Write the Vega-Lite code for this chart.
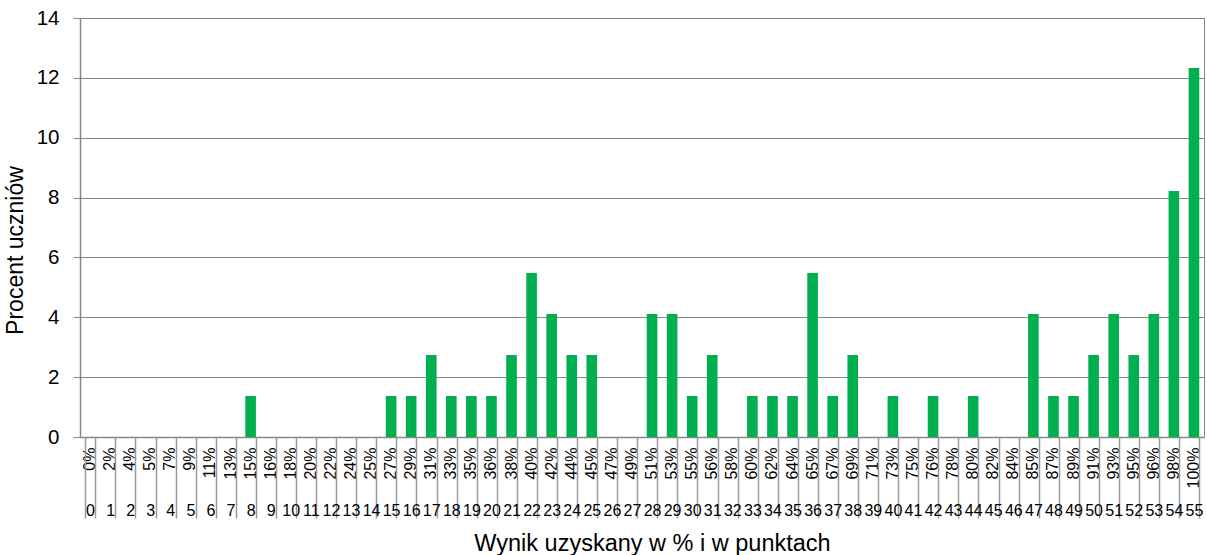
{
  "$schema": "https://vega.github.io/schema/vega-lite/v6.json",
  "width": 1124,
  "height": 419,
  "autosize": "none",
  "padding": {"left": 80, "top": 18, "right": 3, "bottom": 118},
  "background": "white",
  "config": {
    "font": "Liberation Sans",
    "view": {"stroke": "#878787", "strokeWidth": 1}
  },
  "data": {
    "values": [
      {"pts": 0, "lab": "0|0%", "value": 0},
      {"pts": 1, "lab": "1|2%", "value": 0},
      {"pts": 2, "lab": "2|4%", "value": 0},
      {"pts": 3, "lab": "3|5%", "value": 0},
      {"pts": 4, "lab": "4|7%", "value": 0},
      {"pts": 5, "lab": "5|9%", "value": 0},
      {"pts": 6, "lab": "6|11%", "value": 0},
      {"pts": 7, "lab": "7|13%", "value": 0},
      {"pts": 8, "lab": "8|15%", "value": 1.37},
      {"pts": 9, "lab": "9|16%", "value": 0},
      {"pts": 10, "lab": "10|18%", "value": 0},
      {"pts": 11, "lab": "11|20%", "value": 0},
      {"pts": 12, "lab": "12|22%", "value": 0},
      {"pts": 13, "lab": "13|24%", "value": 0},
      {"pts": 14, "lab": "14|25%", "value": 0},
      {"pts": 15, "lab": "15|27%", "value": 1.37},
      {"pts": 16, "lab": "16|29%", "value": 1.37},
      {"pts": 17, "lab": "17|31%", "value": 2.74},
      {"pts": 18, "lab": "18|33%", "value": 1.37},
      {"pts": 19, "lab": "19|35%", "value": 1.37},
      {"pts": 20, "lab": "20|36%", "value": 1.37},
      {"pts": 21, "lab": "21|38%", "value": 2.74},
      {"pts": 22, "lab": "22|40%", "value": 5.48},
      {"pts": 23, "lab": "23|42%", "value": 4.11},
      {"pts": 24, "lab": "24|44%", "value": 2.74},
      {"pts": 25, "lab": "25|45%", "value": 2.74},
      {"pts": 26, "lab": "26|47%", "value": 0},
      {"pts": 27, "lab": "27|49%", "value": 0},
      {"pts": 28, "lab": "28|51%", "value": 4.11},
      {"pts": 29, "lab": "29|53%", "value": 4.11},
      {"pts": 30, "lab": "30|55%", "value": 1.37},
      {"pts": 31, "lab": "31|56%", "value": 2.74},
      {"pts": 32, "lab": "32|58%", "value": 0},
      {"pts": 33, "lab": "33|60%", "value": 1.37},
      {"pts": 34, "lab": "34|62%", "value": 1.37},
      {"pts": 35, "lab": "35|64%", "value": 1.37},
      {"pts": 36, "lab": "36|65%", "value": 5.48},
      {"pts": 37, "lab": "37|67%", "value": 1.37},
      {"pts": 38, "lab": "38|69%", "value": 2.74},
      {"pts": 39, "lab": "39|71%", "value": 0},
      {"pts": 40, "lab": "40|73%", "value": 1.37},
      {"pts": 41, "lab": "41|75%", "value": 0},
      {"pts": 42, "lab": "42|76%", "value": 1.37},
      {"pts": 43, "lab": "43|78%", "value": 0},
      {"pts": 44, "lab": "44|80%", "value": 1.37},
      {"pts": 45, "lab": "45|82%", "value": 0},
      {"pts": 46, "lab": "46|84%", "value": 0},
      {"pts": 47, "lab": "47|85%", "value": 4.11},
      {"pts": 48, "lab": "48|87%", "value": 1.37},
      {"pts": 49, "lab": "49|89%", "value": 1.37},
      {"pts": 50, "lab": "50|91%", "value": 2.74},
      {"pts": 51, "lab": "51|93%", "value": 4.11},
      {"pts": 52, "lab": "52|95%", "value": 2.74},
      {"pts": 53, "lab": "53|96%", "value": 4.11},
      {"pts": 54, "lab": "54|98%", "value": 8.22},
      {"pts": 55, "lab": "55|100%", "value": 12.33}
    ]
  },
  "layer": [
    {
      "mark": {"type": "bar", "color": "#00B050"},
      "encoding": {
        "x": {
          "field": "lab",
          "type": "nominal",
          "sort": null,
          "scale": {"paddingInner": 0.47, "paddingOuter": 0.235},
          "axis": {
            "orient": "bottom",
            "title": null,
            "labelExpr": "split(datum.label, '|')[1]",
            "labelAngle": -90,
            "labelAlign": "right",
            "labelBaseline": "middle",
            "labelFontSize": 16,
            "labelColor": "black",
            "labelPadding": 10,
            "labelOverlap": false,
            "labelBound": false,
            "ticks": false,
            "domain": true,
            "domainColor": "#878787",
            "domainWidth": 1.5
          }
        },
        "y": {
          "field": "value",
          "type": "quantitative",
          "scale": {"domain": [0, 14], "nice": false},
          "axis": {
            "values": [0, 2, 4, 6, 8, 10, 12, 14],
            "title": "Procent uczniów",
            "titleFontSize": 23,
            "titleFontWeight": "normal",
            "titleColor": "black",
            "titlePadding": 9,
            "titleY": 232,
            "labelFontSize": 20.5,
            "labelColor": "black",
            "labelPadding": 14,
            "tickSize": 7,
            "tickColor": "#878787",
            "domainColor": "#878787",
            "domainWidth": 1.5,
            "gridColor": "#878787",
            "gridWidth": 1.2,
            "grid": true
          }
        }
      }
    },
    {
      "mark": {"type": "bar", "opacity": 0},
      "encoding": {
        "x": {
          "field": "lab",
          "type": "nominal",
          "sort": null,
          "axis": {
            "orient": "bottom",
            "title": "Wynik uzyskany w % i w punktach",
            "titleFontSize": 23.5,
            "titleFontWeight": "normal",
            "titleColor": "black",
            "titlePadding": 13,
            "titleX": 572,
            "labelExpr": "split(datum.label, '|')[0]",
            "labelAngle": 0,
            "labelFontSize": 16,
            "labelColor": "black",
            "labelPadding": -16,
            "labelOverlap": false,
            "labelBound": false,
            "ticks": true,
            "tickBand": "extent",
            "tickSize": 81,
            "tickColor": "#9a9a9a",
            "tickWidth": 1.5,
            "domain": false
          }
        }
      }
    }
  ],
  "resolve": {"axis": {"x": "independent"}}
}
